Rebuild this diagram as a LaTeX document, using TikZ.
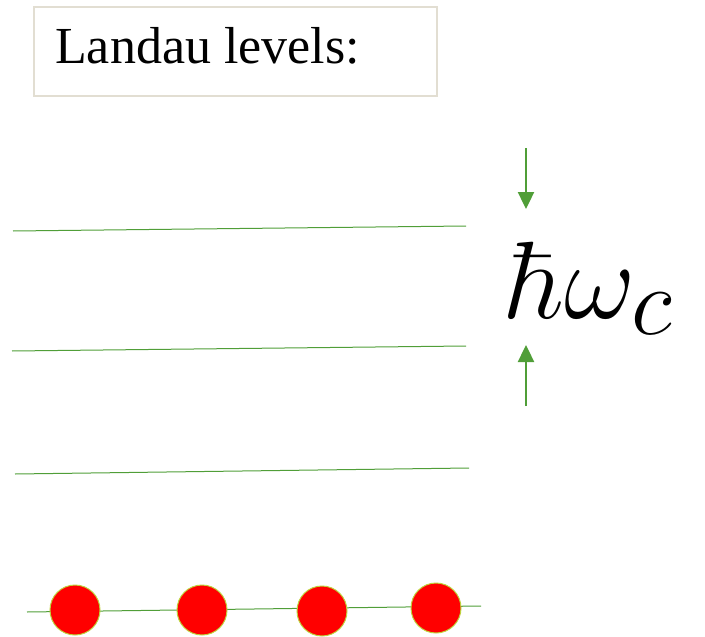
\RequirePackage{fix-cm}
\documentclass[tikz,border=0pt]{standalone}
\usepackage[no-math]{fontspec}
\setmainfont{Liberation Serif}
\usepackage{graphicx}
\usetikzlibrary{arrows.meta}
\definecolor{levelgreen}{RGB}{80,158,56}
\definecolor{boxgrey}{RGB}{226,222,210}
\definecolor{rimyellow}{RGB}{190,210,60}
\tikzset{
  level/.style={levelgreen, line width=1pt},
  gap/.style={levelgreen, line width=2.4pt, -{Triangle[length=17pt,width=16pt]}},
  electron/.style={circle, fill=red, draw=rimyellow, line width=1pt, minimum size=50pt, inner sep=0pt}
}
\begin{document}
\begin{tikzpicture}[x=1pt,y=-1pt]
\useasboundingbox (0,0) rectangle (705,637);
% A) title box
\draw[boxgrey, line width=1.5pt] (34,7) rectangle (437,96);
\node[anchor=base west, inner sep=0pt, font=\fontsize{52}{58}\selectfont] (title) at (55,63) {Landau levels:};
% B) levels
\draw[level] (13,231) -- (466,226);
\draw[level] (12,351) -- (466,346);
\draw[level] (15,474) -- (469,468);
\draw[level] (27,612) -- (481,606);
% C) filled lowest level
\node[electron] (e1) at (75,610) {};
\node[electron] (e2) at (202,610) {};
\node[electron] (e3) at (322,611) {};
\node[electron] (e4) at (436,608) {};
% D) level spacing
\node[anchor=base west, inner sep=0pt, font=\fontsize{110}{120}\selectfont] (gap) at (507,318) {$\hbar\omega_{\scalebox{1.25}{$\scriptstyle c$}}$};
\coordinate (top) at (526,148);
\coordinate (toptip) at (526,209);
\coordinate (bot) at (526,406);
\coordinate (bottip) at (526,345);
\draw[gap] (top) -- (toptip);
\draw[gap] (bot) -- (bottip);
\end{tikzpicture}
\end{document}
